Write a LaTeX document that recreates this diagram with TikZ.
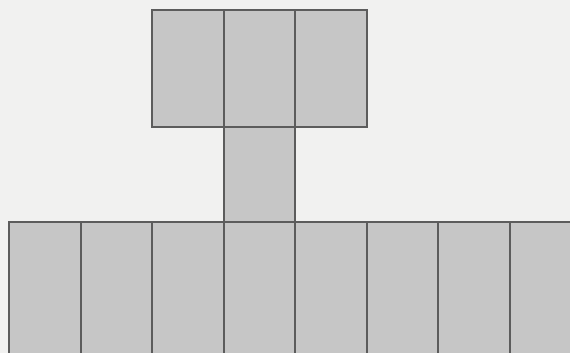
\documentclass[tikz,border=0pt]{standalone}
\usepackage{tikz}
\definecolor{paper}{HTML}{F1F1F0}
\definecolor{cellfill}{HTML}{C6C6C6}
\definecolor{cellline}{HTML}{5C5C5C}
\begin{document}
\begin{tikzpicture}[x=1pt,y=-1pt,
  cell/.style={draw=cellline, fill=cellfill, line width=2pt, inner sep=0pt, outer sep=0pt,
    minimum width=71.5pt, minimum height=#1, anchor=north west},
  cell/.default=117pt]
\useasboundingbox (0,0) rectangle (570,353);
\fill[paper] (0,0) rectangle (570,353);
\clip (0,0) rectangle (570,353);
% top row
\foreach \i in {0,1,2} {
  \node[cell=117pt] (t\i) at ({152+71.5*\i},10) {};
}
% middle cell
\node[cell=95pt] (m) at (223.5,127) {};
% bottom row
\foreach \i in {0,...,7} {
  \node[cell=140pt] (b\i) at ({9+71.5*\i},222) {};
}
\end{tikzpicture}
\end{document}
